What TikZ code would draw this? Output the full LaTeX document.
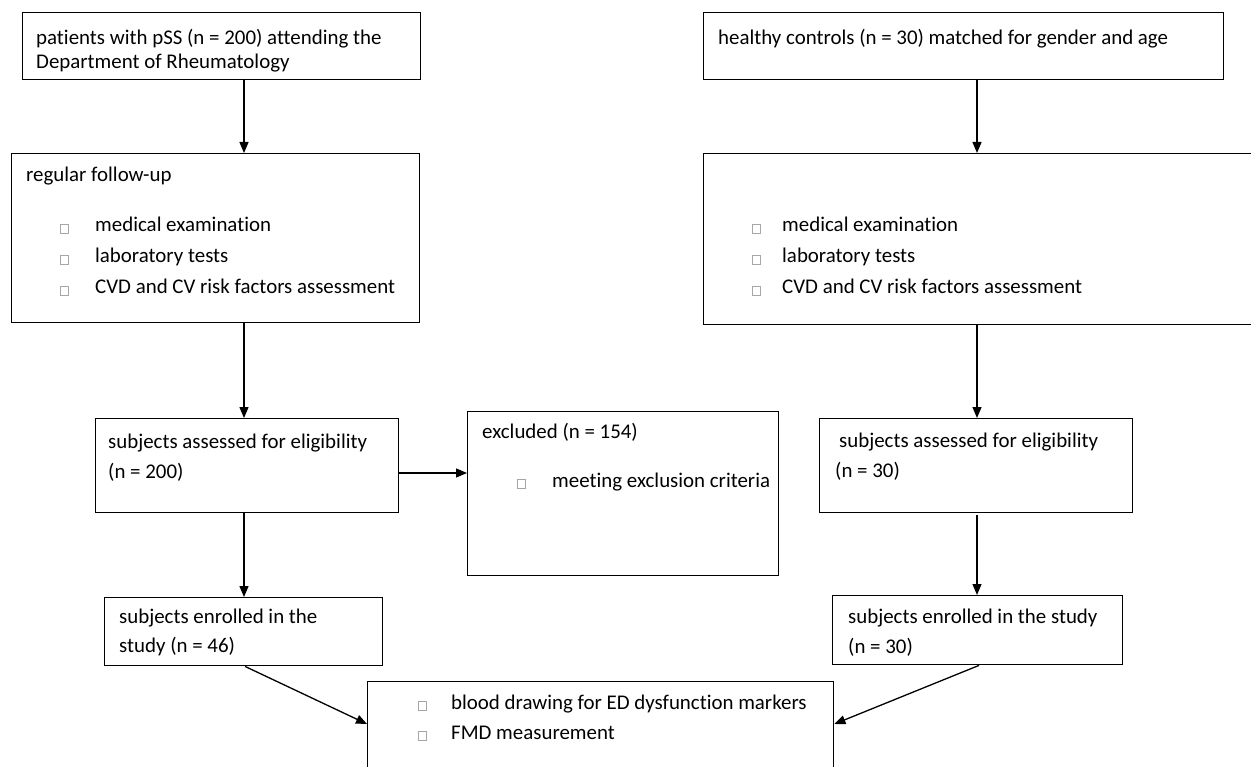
\documentclass[tikz,border=0pt]{standalone}
\usepackage{fontspec}
\setmainfont{Carlito}[Ligatures=NoCommon]
\usetikzlibrary{arrows.meta}
\tikzset{
  box/.style={draw=black, line width=1.4pt, inner sep=0pt, anchor=north west},
  txt/.style={anchor=base west, inner sep=0pt, font=\fontsize{20.9}{25}\selectfont},
  arr/.style={draw=black, line width=1.3pt, -{Triangle[length=11pt,width=9pt]}},
  bbox/.style={draw=gray!70, line width=0.8pt}
}
\newcommand{\mkbox}[5]{\node[box, minimum width=#4-#2, minimum height=#5-#3] (#1) at (#2,#3) {};}
\begin{document}
\begin{tikzpicture}[x=1pt,y=-1pt]
\useasboundingbox (0,0) rectangle (1251,767);
% boxes
\mkbox{A}{22}{12}{420}{79}
\mkbox{B}{11}{153}{419}{322}
\mkbox{C}{703}{12}{1223}{79}
\mkbox{D}{703}{153}{1253}{324}
\mkbox{E}{95}{418}{398}{512}
\mkbox{F}{467}{411}{778}{575}
\mkbox{G}{819}{418}{1132}{512}
\mkbox{H}{832}{595}{1122}{664}
\mkbox{I}{104}{597}{382}{665}
\mkbox{J}{367}{681}{833}{772}
% texts
\node[txt] (tA1) at (36,45) {patients with pSS (n = 200) attending the};
\node[txt] (tA2) at (36,69) {Department of Rheumatology};
\node[txt] (tC1) at (718,45) {healthy controls (n = 30) matched for gender and age};
\node[txt] (tB0) at (26,182) {regular follow-up};
\node[txt] (tB1) at (95,232) {medical examination};
\node[txt] (tB2) at (95,263) {laboratory tests};
\node[txt] (tB3) at (95,294) {CVD and CV risk factors assessment};
\node[txt] (tD1) at (782,232) {medical examination};
\node[txt] (tD2) at (782,263) {laboratory tests};
\node[txt] (tD3) at (782,294) {CVD and CV risk factors assessment};
\node[txt] (tE1) at (108,448) {subjects assessed for eligibility};
\node[txt] (tE2) at (108,478) {(n = 200)};
\node[txt] (tF1) at (482,438) {excluded (n = 154)};
\node[txt] (tF2) at (552,487) {meeting exclusion criteria};
\node[txt] (tG1) at (839,447) {subjects assessed for eligibility};
\node[txt] (tG2) at (835,477) {(n = 30)};
\node[txt] (tH1) at (848,623) {subjects enrolled in the study};
\node[txt] (tH2) at (848,653) {(n = 30)};
\node[txt] (tI1) at (119,623) {subjects enrolled in the};
\node[txt] (tI2) at (119,652) {study (n = 46)};
\node[txt] (tJ1) at (451,709) {blood drawing for ED dysfunction markers};
\node[txt] (tJ2) at (451,739) {FMD measurement};
% bullet boxes
\foreach \x/\y in {60/233,60/264,60/295,752/233,752/264,752/295,517/488,418/710,418/740}
  \draw[bbox] (\x,\y) rectangle ++(8,-9);
% arrows
\draw[arr] ([xshift=222pt]A.south west) -- ([xshift=233pt]B.north west);
\draw[arr] ([xshift=274pt]C.south west) -- ([xshift=274pt]D.north west);
\draw[arr] ([xshift=233pt]B.south west) -- ([xshift=149pt]E.north west);
\draw[arr] ([xshift=274pt]D.south west) -- ([xshift=158pt]G.north west);
\draw[arr] ([yshift=-55pt]E.north east) -- ([yshift=-62pt]F.north west);
\draw[arr] ([xshift=149pt]E.south west) -- ([xshift=140pt]I.north west);
\draw[arr] ([xshift=158pt,yshift=-2pt]G.south west) -- ([xshift=145pt]H.north west);
\draw[arr] ([xshift=141pt]I.south west) -- ([yshift=-43pt]J.north west);
\draw[arr] ([xshift=147pt]H.south west) -- ([yshift=-43pt]J.north east);
\end{tikzpicture}
\end{document}
